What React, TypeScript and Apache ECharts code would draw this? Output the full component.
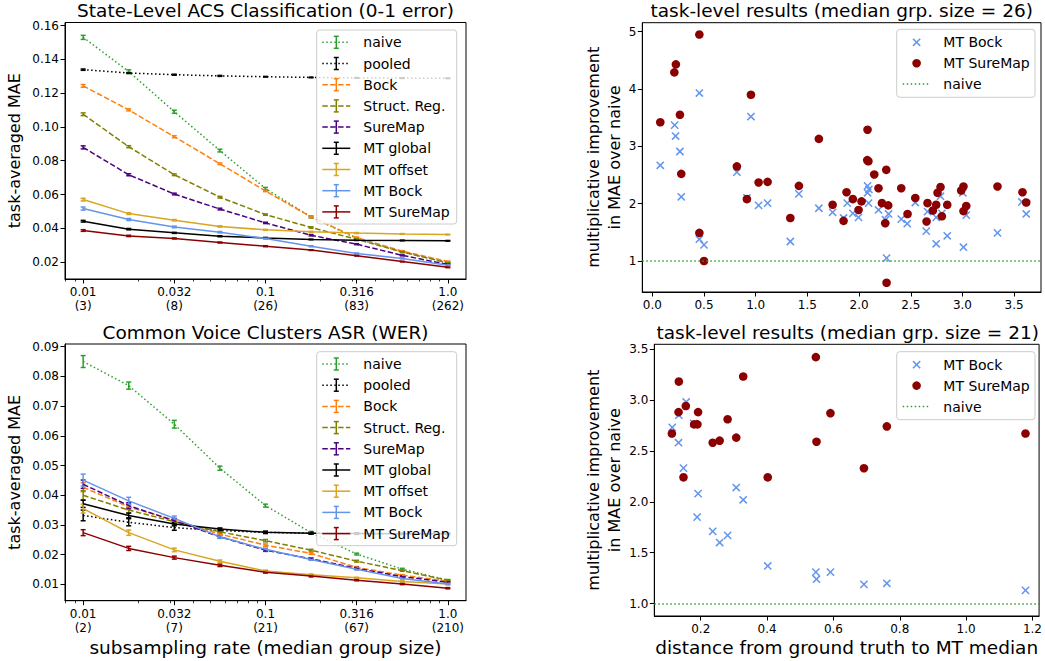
import React, { useEffect, useRef } from 'react';
import * as echarts from 'echarts';

const FONT = '"DejaVu Sans", sans-serif';

// ---------- shared x positions (subsampling rates) ----------
const rates = [0.01, 0.01778, 0.03162, 0.05623, 0.1, 0.1778, 0.3162, 0.5623, 1.0];
const rateTicks = [0.01, 0.03162, 0.1, 0.3162, 1.0];
const rateTickText = ['0.01', '0.032', '0.1', '0.316', '1.0'];
const acsGroupSizes = ['(3)', '(8)', '(26)', '(83)', '(262)'];
const cvGroupSizes = ['(2)', '(7)', '(21)', '(67)', '(210)'];
const minorRates = [0.008, 0.009, 0.02, 0.03, 0.04, 0.05, 0.06, 0.07, 0.08, 0.09, 0.2, 0.3, 0.4, 0.5, 0.6, 0.7, 0.8, 0.9];

const methods = ['naive', 'pooled', 'Bock', 'Struct. Reg.', 'SureMap', 'MT global', 'MT offset', 'MT Bock', 'MT SureMap'];

// ---------- State-Level ACS Classification (0-1 error) ----------
const acsNaive = [0.153, 0.1328, 0.109, 0.086, 0.0635, 0.0467, 0.034, 0.026, 0.0198];
const acsPooled = [0.1339, 0.1319, 0.1309, 0.1302, 0.1297, 0.1293, 0.129, 0.1289, 0.1288];
const acsBock = [0.1243, 0.1101, 0.0942, 0.0782, 0.0621, 0.0467, 0.0345, 0.0265, 0.0203];
const acsStruct = [0.1075, 0.0883, 0.0717, 0.0584, 0.0481, 0.0405, 0.0335, 0.026, 0.0195];
const acsSureMap = [0.0879, 0.0717, 0.0603, 0.0514, 0.0432, 0.0359, 0.0306, 0.024, 0.0186];
const acsMtGlobal = [0.0442, 0.0395, 0.0373, 0.0353, 0.0343, 0.0334, 0.033, 0.0328, 0.0326];
const acsMtOffset = [0.057, 0.0487, 0.0448, 0.0411, 0.0391, 0.0379, 0.0372, 0.0367, 0.0363];
const acsMtBock = [0.0517, 0.0452, 0.0408, 0.0377, 0.034, 0.0294, 0.0251, 0.0222, 0.0182];
const acsMtSureMap = [0.0387, 0.0355, 0.034, 0.0316, 0.0294, 0.0271, 0.0238, 0.0203, 0.0169];

const acsNaiveErr = [0.0012, 0.001, 0.0009, 0.0008, 0.0007, 0.0006, 0.0005, 0.0004, 0.0003];
const acsPooledErr = [0.0004, 0.0003, 0.0003, 0.0003, 0.0002, 0.0002, 0.0002, 0.0002, 0.0002];
const acsBockErr = [0.0008, 0.0006, 0.0006, 0.0005, 0.0004, 0.0004, 0.0003, 0.0003, 0.0003];
const acsStructErr = [0.0008, 0.0006, 0.0005, 0.0005, 0.0004, 0.0004, 0.0003, 0.0003, 0.0003];
const acsSureMapErr = [0.0009, 0.0006, 0.0005, 0.0005, 0.0004, 0.0004, 0.0003, 0.0003, 0.0003];
const acsMtGlobalErr = [0.0005, 0.0004, 0.0003, 0.0003, 0.0003, 0.0002, 0.0002, 0.0002, 0.0002];
const acsMtOffsetErr = [0.0008, 0.0005, 0.0004, 0.0004, 0.0003, 0.0003, 0.0003, 0.0002, 0.0002];
const acsMtBockErr = [0.0009, 0.0006, 0.0005, 0.0004, 0.0004, 0.0003, 0.0003, 0.0003, 0.0002];
const acsMtSureMapErr = [0.0005, 0.0004, 0.0003, 0.0003, 0.0003, 0.0002, 0.0002, 0.0002, 0.0002];

// ---------- Common Voice Clusters ASR (WER) ----------
const cvNaive = [0.085, 0.0769, 0.0639, 0.0491, 0.0365, 0.0274, 0.0202, 0.0151, 0.0114];
const cvPooled = [0.0332, 0.0309, 0.0291, 0.0281, 0.0275, 0.0272, 0.0271, 0.027, 0.027];
const cvBock = [0.0427, 0.0361, 0.0316, 0.0269, 0.0232, 0.0204, 0.0157, 0.0131, 0.0111];
const cvStruct = [0.04, 0.035, 0.0311, 0.0277, 0.0247, 0.0215, 0.0178, 0.0146, 0.0114];
const cvSureMap = [0.0437, 0.0365, 0.0314, 0.026, 0.0215, 0.0186, 0.0154, 0.0126, 0.0107];
const cvMtGlobal = [0.0371, 0.0332, 0.0303, 0.0286, 0.0275, 0.0272, 0.0271, 0.027, 0.027];
const cvMtOffset = [0.0355, 0.0274, 0.0216, 0.0178, 0.0145, 0.0132, 0.0122, 0.011, 0.0101];
const cvMtBock = [0.0451, 0.0381, 0.0322, 0.026, 0.0218, 0.0184, 0.0151, 0.012, 0.0101];
const cvMtSureMap = [0.0274, 0.0221, 0.019, 0.0164, 0.0141, 0.0128, 0.0114, 0.0101, 0.0087];

const cvNaiveErr = [0.002, 0.0012, 0.0013, 0.0007, 0.0005, 0.0004, 0.0003, 0.0003, 0.0002];
const cvPooledErr = [0.0018, 0.0012, 0.0009, 0.0005, 0.0004, 0.0003, 0.0003, 0.0002, 0.0002];
const cvBockErr = [0.0015, 0.001, 0.0007, 0.0005, 0.0004, 0.0003, 0.0003, 0.0002, 0.0002];
const cvStructErr = [0.0015, 0.001, 0.0007, 0.0005, 0.0004, 0.0003, 0.0003, 0.0002, 0.0002];
const cvSureMapErr = [0.0014, 0.001, 0.0007, 0.0005, 0.0004, 0.0003, 0.0003, 0.0002, 0.0002];
const cvMtGlobalErr = [0.0012, 0.0008, 0.0006, 0.0004, 0.0003, 0.0003, 0.0002, 0.0002, 0.0002];
const cvMtOffsetErr = [0.0015, 0.0009, 0.0006, 0.0004, 0.0003, 0.0003, 0.0002, 0.0002, 0.0002];
const cvMtBockErr = [0.002, 0.0012, 0.0008, 0.0005, 0.0004, 0.0003, 0.0003, 0.0002, 0.0002];
const cvMtSureMapErr = [0.001, 0.0007, 0.0005, 0.0004, 0.0003, 0.0003, 0.0002, 0.0002, 0.0002];

// ---------- task-level results (median grp. size = 26) ----------
const acsTaskMtBock = [
  [0.077, 2.67], [0.216, 3.37], [0.225, 3.18], [0.267, 2.91], [0.28, 2.12], [0.455, 3.93], [0.455, 1.38],
  [0.5, 1.28], [0.954, 3.52], [0.818, 2.55], [0.915, 2.1], [1.028, 1.97], [1.115, 2.01], [1.335, 1.34],
  [1.418, 2.17], [1.611, 1.92], [1.744, 1.85], [1.85, 1.75], [1.886, 2.01], [1.94, 1.83], [1.995, 1.76],
  [2.082, 2.31], [2.095, 2.25], [2.082, 2.19], [2.092, 2.01], [2.188, 1.89], [2.256, 1.72], [2.285, 1.82],
  [2.266, 1.05], [2.408, 1.73], [2.466, 1.65], [2.544, 2.02], [2.662, 1.86], [2.746, 1.76], [2.65, 1.52],
  [2.788, 2.13], [2.801, 1.83], [2.746, 1.3], [2.853, 1.44], [3.004, 2.19], [3.037, 1.8], [3.01, 1.24],
  [3.339, 1.49], [3.575, 2.03], [3.617, 1.82],
];
const acsTaskMtSureMap = [
  [0.077, 3.42], [0.455, 4.95], [0.228, 4.43], [0.213, 4.29], [0.267, 3.55], [0.28, 2.52], [0.954, 3.9],
  [0.818, 2.65], [0.915, 2.08], [1.028, 2.37], [1.115, 2.38], [0.455, 1.49], [0.5, 1.0], [1.335, 1.75],
  [1.418, 2.31], [1.611, 3.13], [1.744, 1.98], [1.85, 1.7], [1.879, 2.2], [2.082, 3.29], [2.079, 2.76],
  [2.09, 2.74], [2.147, 2.51], [2.263, 2.59], [1.94, 2.08], [2.024, 2.04], [1.995, 1.89], [2.188, 2.27],
  [2.221, 2.01], [2.282, 1.97], [2.253, 1.66], [2.266, 0.62], [2.408, 2.27], [2.469, 1.82], [2.544, 2.1],
  [2.662, 2.01], [2.746, 1.98], [2.714, 1.88], [2.653, 1.69], [2.759, 2.19], [2.788, 2.29], [2.853, 1.98],
  [2.801, 1.78], [2.988, 2.23], [3.01, 2.3], [3.037, 1.96], [3.01, 1.87], [3.339, 2.3], [3.581, 2.2],
  [3.617, 2.02],
];

// ---------- task-level results (median grp. size = 21) ----------
const cvTaskMtBock = [
  [0.114, 2.73], [0.134, 2.85], [0.133, 2.58], [0.156, 2.98], [0.148, 2.33], [0.179, 2.77], [0.192, 2.08],
  [0.189, 1.85], [0.236, 1.71], [0.257, 1.6], [0.281, 1.67], [0.307, 2.14], [0.328, 2.02], [0.402, 1.37],
  [0.547, 1.31], [0.549, 1.24], [0.591, 1.31], [0.692, 1.19], [0.761, 1.2], [1.179, 1.13],
];
const cvTaskMtSureMap = [
  [0.134, 3.18], [0.113, 2.67], [0.133, 2.88], [0.155, 2.94], [0.148, 2.24], [0.192, 2.88], [0.18, 2.76],
  [0.19, 2.76], [0.236, 2.58], [0.257, 2.6], [0.281, 2.81], [0.307, 2.63], [0.328, 3.23], [0.402, 2.24],
  [0.547, 3.42], [0.549, 2.59], [0.591, 2.87], [0.692, 2.33], [0.761, 2.74], [1.179, 2.67],
];
const naiveLevel = 1;

const acsTicksY = [0.02, 0.04, 0.06, 0.08, 0.1, 0.12, 0.14, 0.16];
const cvTicksY = [0.01, 0.02, 0.03, 0.04, 0.05, 0.06, 0.07, 0.08, 0.09];
const acsTaskTicksX = [0, 0.5, 1, 1.5, 2, 2.5, 3, 3.5];
const acsTaskTicksY = [1, 2, 3, 4, 5];
const cvTaskTicksX = [0.2, 0.4, 0.6, 0.8, 1.0, 1.2];
const cvTaskTicksY = [1.0, 1.5, 2.0, 2.5, 3.0, 3.5];

// ---------- styles ----------
const DOT = [1.5, 2.5];
const DASH = [5.5, 2.4];
const methodStyles: { color: string; dash: number[] | null }[] = [
  { color: '#2ca02c', dash: DOT },
  { color: '#000000', dash: DOT },
  { color: '#ff7f0e', dash: DASH },
  { color: '#808000', dash: DASH },
  { color: '#4b0082', dash: DASH },
  { color: '#000000', dash: null },
  { color: '#daa520', dash: null },
  { color: '#6495ed', dash: null },
  { color: '#8b0000', dash: null },
];
const BLUE = '#6495ed';
const DARKRED = '#8b0000';
const GREEN = '#2ca02c';

const acsValues = [acsNaive, acsPooled, acsBock, acsStruct, acsSureMap, acsMtGlobal, acsMtOffset, acsMtBock, acsMtSureMap];
const acsErrs = [acsNaiveErr, acsPooledErr, acsBockErr, acsStructErr, acsSureMapErr, acsMtGlobalErr, acsMtOffsetErr, acsMtBockErr, acsMtSureMapErr];
const cvValues = [cvNaive, cvPooled, cvBock, cvStruct, cvSureMap, cvMtGlobal, cvMtOffset, cvMtBock, cvMtSureMap];
const cvErrs = [cvNaiveErr, cvPooledErr, cvBockErr, cvStructErr, cvSureMapErr, cvMtGlobalErr, cvMtOffsetErr, cvMtBockErr, cvMtSureMapErr];

const lg = (v: number) => Math.log10(v);

function axisBase(gridIndex: number, min: number, max: number, ticks: number[], fmt: (v: number) => string, extra: any = {}) {
  return {
    type: 'value',
    gridIndex,
    min,
    max,
    axisLine: { show: true, onZero: false, lineStyle: { color: '#000', width: 1 } },
    axisTick: { show: true, inside: false, length: 4.5, customValues: ticks, lineStyle: { color: '#000', width: 1 } },
    axisLabel: { show: true, customValues: ticks, formatter: fmt, color: '#000', fontSize: 12, fontFamily: FONT, margin: 6, lineHeight: 14 },
    splitLine: { show: false },
    ...extra,
  };
}

function rateAxis(gridIndex: number, sizes: string[], extra: any = {}) {
  return axisBase(
    gridIndex,
    -2.0995,
    0.0995,
    rateTicks.map(lg),
    (v: number) => {
      const i = rateTicks.findIndex((r) => Math.abs(lg(r) - v) < 1e-6);
      return i < 0 ? '' : rateTickText[i] + '\n' + sizes[i];
    },
    { position: 'bottom', ...extra }
  );
}

function minorAxis(gridIndex: number) {
  return {
    type: 'value',
    gridIndex,
    min: -2.0995,
    max: 0.0995,
    position: 'bottom',
    axisLine: { show: false },
    axisLabel: { show: false },
    splitLine: { show: false },
    axisTick: { show: true, length: 2.5, customValues: minorRates.map(lg), lineStyle: { color: '#000', width: 0.8 } },
  };
}

function errRender(color: string) {
  return (params: any, api: any) => {
    const x = api.value(0);
    const p1 = api.coord([x, api.value(1)]);
    const p2 = api.coord([x, api.value(2)]);
    const c = 2.5;
    const st = { stroke: color, lineWidth: 1.5 };
    return {
      type: 'group',
      children: [
        { type: 'line', shape: { x1: p1[0], y1: p1[1], x2: p2[0], y2: p2[1] }, style: st },
        { type: 'line', shape: { x1: p1[0] - c, y1: p1[1], x2: p1[0] + c, y2: p1[1] }, style: st },
        { type: 'line', shape: { x1: p2[0] - c, y1: p2[1], x2: p2[0] + c, y2: p2[1] }, style: st },
      ],
    };
  };
}

function crossRender(color: string) {
  return (params: any, api: any) => {
    const p = api.coord([api.value(0), api.value(1)]);
    const s = 3.6;
    const st = { stroke: color, lineWidth: 1.5 };
    return {
      type: 'group',
      children: [
        { type: 'line', shape: { x1: p[0] - s, y1: p[1] - s, x2: p[0] + s, y2: p[1] + s }, style: st },
        { type: 'line', shape: { x1: p[0] - s, y1: p[1] + s, x2: p[0] + s, y2: p[1] - s }, style: st },
      ],
    };
  };
}

function methodSeries(values: number[][], errs: number[][], xAxisIndex: number, yAxisIndex: number) {
  const out: any[] = [];
  values.forEach((vals, m) => {
    const st = methodStyles[m];
    out.push({
      type: 'line',
      name: methods[m],
      xAxisIndex,
      yAxisIndex,
      data: rates.map((r, i) => [lg(r), vals[i]]),
      symbol: 'none',
      silent: true,
      lineStyle: { color: st.color, width: 1.5, type: st.dash ? st.dash : 'solid' },
      itemStyle: { color: st.color },
      z: 2,
    });
    out.push({
      type: 'custom',
      name: methods[m] + ' err',
      xAxisIndex,
      yAxisIndex,
      silent: true,
      encode: { x: 0, y: [1, 2] },
      data: rates.map((r, i) => [lg(r), vals[i] - errs[m][i], vals[i] + errs[m][i]]),
      renderItem: errRender(st.color),
      z: 2,
    });
  });
  return out;
}

function taskSeries(bock: number[][], sure: number[][], xAxisIndex: number, yAxisIndex: number) {
  return [
    {
      type: 'custom',
      name: 'MT Bock',
      xAxisIndex,
      yAxisIndex,
      silent: true,
      encode: { x: 0, y: 1 },
      data: bock,
      renderItem: crossRender(BLUE),
      z: 2,
    },
    {
      type: 'scatter',
      name: 'MT SureMap',
      xAxisIndex,
      yAxisIndex,
      silent: true,
      data: sure,
      symbol: 'circle',
      symbolSize: 8.6,
      itemStyle: { color: DARKRED, opacity: 1 },
      z: 3,
      markLine: {
        silent: true,
        symbol: ['none', 'none'],
        label: { show: false },
        lineStyle: { color: GREEN, width: 1.5, type: DOT },
        data: [{ yAxis: naiveLevel }],
        z: 4,
      },
    },
  ];
}

function textEl(x: number, y: number, text: string, size: number, align: string) {
  return {
    type: 'text',
    x,
    y,
    z: 102,
    style: {
      text,
      fill: '#000',
      fontSize: size,
      fontFamily: FONT,
      font: `${size}px ${FONT}`,
      textAlign: align,
      align,
      textVerticalAlign: 'middle',
      verticalAlign: 'middle',
    },
  };
}

function lineEl(x1: number, y1: number, x2: number, y2: number, color: string, dash: number[] | null) {
  return {
    type: 'line',
    z: 101,
    shape: { x1, y1, x2, y2 },
    style: { stroke: color, lineWidth: 1.5, lineDash: dash || undefined },
  };
}

function methodLegend(x0: number, y0: number) {
  const w = 140;
  const h = 194;
  const els: any[] = [
    { type: 'rect', z: 100, shape: { x: x0, y: y0, width: w, height: h, r: 3 }, style: { fill: 'rgba(255,255,255,0.8)', stroke: '#cccccc', lineWidth: 1 } },
  ];
  methods.forEach((name, i) => {
    const st = methodStyles[i];
    const cy = y0 + 12.3 + i * 21.2;
    const hx1 = x0 + 5.6;
    const hx2 = x0 + 33.6;
    const cx = (hx1 + hx2) / 2;
    els.push(lineEl(hx1, cy, hx2, cy, st.color, st.dash));
    els.push(lineEl(cx, cy - 6, cx, cy + 6, st.color, null));
    els.push(lineEl(cx - 2.5, cy - 6, cx + 2.5, cy - 6, st.color, null));
    els.push(lineEl(cx - 2.5, cy + 6, cx + 2.5, cy + 6, st.color, null));
    els.push(textEl(x0 + 46.6, cy, name, 14, 'left'));
  });
  return els;
}

function taskLegend(x0: number, y0: number) {
  const els: any[] = [
    { type: 'rect', z: 100, shape: { x: x0, y: y0, width: 138.3, height: 68, r: 3 }, style: { fill: 'rgba(255,255,255,0.8)', stroke: '#cccccc', lineWidth: 1 } },
  ];
  const cx = x0 + 19.9;
  const rows = [y0 + 13, y0 + 33.9, y0 + 54.8];
  const s = 3.6;
  els.push(lineEl(cx - s, rows[0] - s, cx + s, rows[0] + s, BLUE, null));
  els.push(lineEl(cx - s, rows[0] + s, cx + s, rows[0] - s, BLUE, null));
  els.push({ type: 'circle', z: 101, shape: { cx, cy: rows[1], r: 4.3 }, style: { fill: DARKRED } });
  els.push(lineEl(x0 + 6, rows[2], x0 + 33.6, rows[2], GREEN, DOT));
  els.push(textEl(x0 + 46.6, rows[0], 'MT Bock', 14, 'left'));
  els.push(textEl(x0 + 46.6, rows[1], 'MT SureMap', 14, 'left'));
  els.push(textEl(x0 + 46.6, rows[2], 'naive', 14, 'left'));
  return els;
}

function buildOption() {
  const gridStyle = { show: true, borderColor: '#000', borderWidth: 1, backgroundColor: 'transparent' };
  const yNameStyle = { color: '#000', fontSize: 16, fontFamily: FONT, lineHeight: 21 };
  const xNameStyle = { color: '#000', fontSize: 18.5, fontFamily: FONT };
  return {
    animation: false,
    backgroundColor: '#ffffff',
    grid: [
      { left: 65, top: 22.5, width: 401, height: 256.5, ...gridStyle },
      { left: 65, top: 344, width: 401, height: 256.7, ...gridStyle },
      { left: 642.3, top: 22.7, width: 398.7, height: 269.3, ...gridStyle },
      { left: 654.3, top: 344.3, width: 386.7, height: 271.7, ...gridStyle },
    ],
    xAxis: [
      rateAxis(0, acsGroupSizes),
      minorAxis(0),
      rateAxis(1, cvGroupSizes, {
        name: 'subsampling rate (median group size)',
        nameLocation: 'middle',
        nameGap: 37,
        nameTextStyle: xNameStyle,
      }),
      minorAxis(1),
      axisBase(2, -0.097, 3.76, acsTaskTicksX, (v: number) => v.toFixed(1), { position: 'bottom' }),
      axisBase(3, 0.06, 1.22, cvTaskTicksX, (v: number) => v.toFixed(1), {
        position: 'bottom',
        name: 'distance from ground truth to MT median',
        nameLocation: 'middle',
        nameGap: 22,
        nameTextStyle: xNameStyle,
      }),
    ],
    yAxis: [
      axisBase(0, 0.01, 0.1618, acsTicksY, (v: number) => v.toFixed(2), {
        position: 'left',
        name: 'task-averaged MAE',
        nameLocation: 'middle',
        nameRotate: 90,
        nameGap: 40,
        nameTextStyle: yNameStyle,
      }),
      axisBase(1, 0.0045, 0.0909, cvTicksY, (v: number) => v.toFixed(2), {
        position: 'left',
        name: 'task-averaged MAE',
        nameLocation: 'middle',
        nameRotate: 90,
        nameGap: 40,
        nameTextStyle: yNameStyle,
      }),
      axisBase(2, 0.459, 5.157, acsTaskTicksY, (v: number) => v.toFixed(0), {
        position: 'left',
        name: 'multiplicative improvement\nin MAE over naive',
        nameLocation: 'middle',
        nameRotate: 90,
        nameGap: 13,
        nameTextStyle: yNameStyle,
      }),
      axisBase(3, 0.879, 3.546, cvTaskTicksY, (v: number) => v.toFixed(1), {
        position: 'left',
        name: 'multiplicative improvement\nin MAE over naive',
        nameLocation: 'middle',
        nameRotate: 90,
        nameGap: 26,
        nameTextStyle: yNameStyle,
      }),
    ],
    series: [
      ...methodSeries(acsValues, acsErrs, 0, 0),
      ...methodSeries(cvValues, cvErrs, 2, 1),
      ...taskSeries(acsTaskMtBock, acsTaskMtSureMap, 4, 2),
      ...taskSeries(cvTaskMtBock, cvTaskMtSureMap, 5, 3),
    ],
    graphic: [
      textEl(265.5, 10.5, 'State-Level ACS Classification (0-1 error)', 18.5, 'center'),
      textEl(265.5, 332, 'Common Voice Clusters ASR (WER)', 18.5, 'center'),
      textEl(841.7, 10.5, 'task-level results (median grp. size = 26)', 18.5, 'center'),
      textEl(847.7, 332, 'task-level results (median grp. size = 21)', 18.5, 'center'),
      ...methodLegend(316.7, 30),
      ...methodLegend(316.7, 351.7),
      ...taskLegend(896.7, 29.3),
      ...taskLegend(896.7, 351.7),
    ],
  };
}

export default function App() {
  const ref = useRef<HTMLDivElement>(null);
  useEffect(() => {
    if (!ref.current) return;
    const chart = echarts.init(ref.current, null, { renderer: 'svg' });
    chart.setOption(buildOption() as any);
    return () => chart.dispose();
  }, []);
  return <div ref={ref} style={{ position: 'absolute', left: 0, top: 0, width: 1045, height: 661 }} />;
}
